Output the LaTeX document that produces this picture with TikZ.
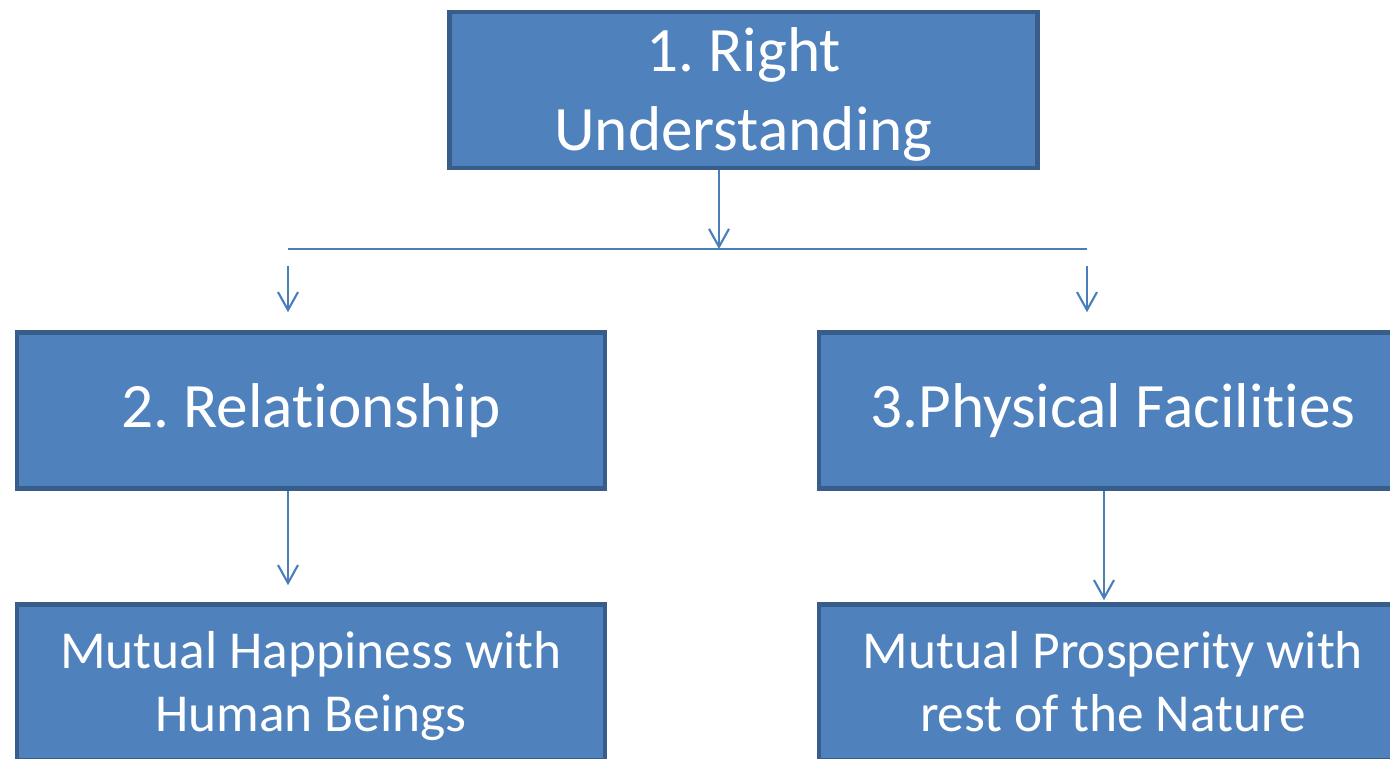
\documentclass[tikz,border=0pt]{standalone}
\usepackage{fontspec}
\setmainfont[Ligatures=NoCommon]{Carlito}
\usetikzlibrary{arrows.meta}

\definecolor{boxfill}{HTML}{4F81BD}
\definecolor{boxline}{HTML}{385D8A}
\definecolor{linkcol}{HTML}{4A7EBB}

% extra room above the first line of a box text
\newcommand{\firstln}[1]{\rule{0pt}{#1}}

\tikzset{
  block/.style={draw=boxline, fill=boxfill, line width=1.3pt, text=white,
    align=center, inner sep=0pt, minimum width=5.88cm, minimum height=1.56cm},
  bigtext/.style={font=\fontsize{18}{22.5}\selectfont},
  smalltext/.style={font=\fontsize{15.2}{17.8}\selectfont},
  link/.style={draw=linkcol, line width=0.6pt},
  arr/.style={link, -{Straight Barb[length=1.8mm, width=2mm]}}
}

\begin{document}
\frenchspacing
\begin{tikzpicture}
			%%%%% START %%%%%
			\useasboundingbox (0, 0) rectangle (13.9, -7.58);
			\clip (0, 0) rectangle (13.9, -7.58);
			
			% boxes
			\node[block, bigtext] (right) at (7.435, -0.90) {\firstln{15pt}1. Right\\Understanding};
			\node[block, bigtext] (rel) at (3.11, -4.105) {2. Relationship};
			\node[block, bigtext] (phys) at (11.13, -4.105) {3.Physical Facilities};
			\node[block, smalltext] (happy) at (3.11, -6.825) {\firstln{15.3pt}Mutual Happiness with\\Human Beings\strut};
			\node[block, smalltext] (prosp) at (11.13, -6.825) {\firstln{15.3pt}Mutual Prosperity with\\rest of the Nature\strut};
			
			% branch line
			\coordinate (mid) at (7.19, -2.49);
			\coordinate (hl) at (2.88, -2.49);
			\coordinate (hr) at (10.87, -2.49);
			\coordinate (dl) at (2.88, -2.66);
			\coordinate (dr) at (10.87, -2.66);
			
			\draw[arr] (right.south -| mid) -- (mid);
			\draw[link] (hl) -- (hr);
			\draw[arr, shorten >=0.18cm] (dl) -- (dl |- rel.north);
			\draw[arr, shorten >=0.18cm] (dr) -- (dr |- phys.north);
			
			% lower arrows
			\coordinate (rl) at (2.88, 0);
			\coordinate (pl) at (11.04, 0);
			\draw[arr, shorten >=0.17cm] (rel.south -| rl) -- (happy.north -| rl);
			\draw[arr, shorten >=0.02cm] (phys.south -| pl) -- (prosp.north -| pl);
			
			%%%%% END %%%%%
\end{tikzpicture}
\end{document}
